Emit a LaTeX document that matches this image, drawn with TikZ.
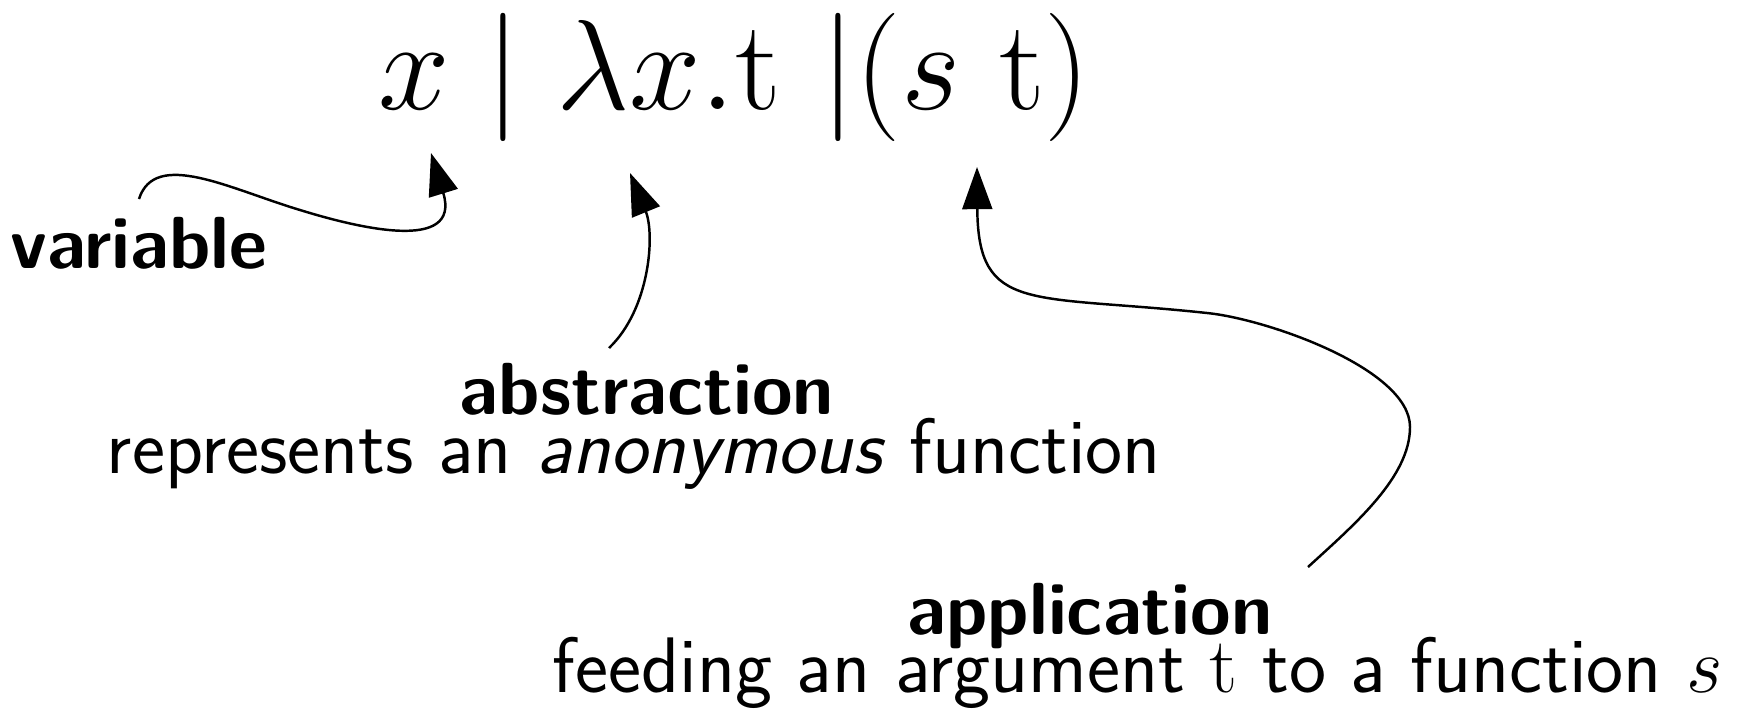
\RequirePackage{fix-cm}
\documentclass[tikz,border=0pt]{standalone}
\usetikzlibrary{arrows.meta}

\begin{document}
\begin{tikzpicture}[line width=0.7pt,>={Triangle[length=12pt,width=8.5pt]},
  lbl/.style={font=\sffamily\fontsize{22.4}{26}\selectfont,anchor=base,inner sep=0pt},
  ttl/.style={lbl,font=\sffamily\bfseries\fontsize{21}{25}\selectfont}]
  \useasboundingbox (0,0) rectangle (17.44,7.09);
  \node[anchor=base,inner sep=0pt,font=\fontsize{36.5}{40}\selectfont] (term) at (7.34,6.00)
    {$x \mid \lambda x.\mathrm{t}\ |(s\ \mathrm{t})$};
  \coordinate (varfrom) at (1.39,5.10);
  \coordinate (varto) at (4.31,5.56);
  \coordinate (absfrom) at (6.09,3.61);
  \coordinate (absto) at (6.30,5.36);
  \coordinate (appfrom) at (13.08,1.42);
  \coordinate (appto) at (9.77,5.42);
  \node[ttl] (var) at (1.39,4.41) {variable};
  \node[ttl] (abs) at (6.47,2.95) {abstraction};
  \node[lbl] (absdesc) at (6.34,2.36) {represents an \emph{anonymous} function};
  \node[ttl] (app) at (10.90,0.75) {application};
  \node[lbl] (appdesc) at (11.38,0.17) {feeding an argument $\mathrm{t}$ to a function $s$};
  \draw[->] (varfrom) .. controls (1.55,5.60) and (2.30,5.20) .. (3.00,4.99)
    .. controls (3.55,4.82) and (4.62,4.55) .. (varto);
  \draw[->] (absfrom) .. controls (6.50,4.00) and (6.55,4.75) .. (absto);
  \draw[->] (appfrom) .. controls (13.55,1.85) and (14.10,2.32) .. (14.10,2.82)
    .. controls (14.10,3.40) and (12.67,3.90) .. (12.07,3.96)
    .. controls (10.30,4.15) and (9.78,3.95) .. (appto);
\end{tikzpicture}
\end{document}
